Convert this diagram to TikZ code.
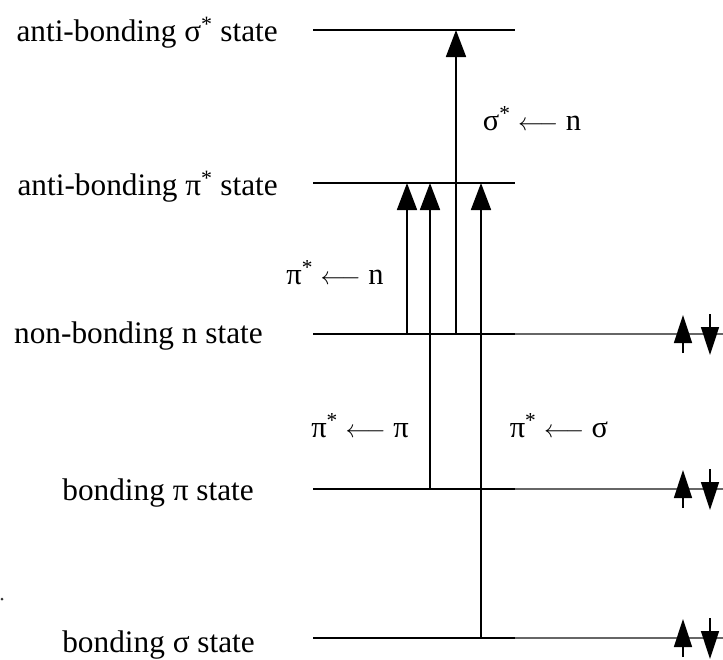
\documentclass[tikz,border=0pt]{standalone}
\usepackage{fontspec}
\setmainfont{Liberation Serif}
\usetikzlibrary{arrows.meta}
\begin{document}
\begin{tikzpicture}[x=1pt,y=-1pt,
  lvl/.style={line width=2.4pt},
  lvlthin/.style={line width=1.6pt},
  ext/.style={line width=1.3pt, black!60},
  trans/.style={line width=1.8pt, -{Triangle[length=27pt,width=20pt]}},
  spin/.style={line width=1.6pt, -{Triangle[length=28pt,width=18pt]}},
  lab/.style={anchor=base east, inner sep=0pt, font=\fontsize{31.3}{36}\selectfont},
  tlab/.style={anchor=base, inner sep=0pt, font=\fontsize{30.5}{36}\selectfont}
]
\useasboundingbox (0,0) rectangle (723,659);

% level end points
\coordinate (sa0) at (313,30);  \coordinate (sa1) at (515,30);
\coordinate (pa0) at (313,183); \coordinate (pa1) at (515,183);
\coordinate (n0)  at (313,334); \coordinate (n1)  at (515,334); \coordinate (n2) at (723,334);
\coordinate (pb0) at (313,489); \coordinate (pb1) at (515,489); \coordinate (pb2) at (723,489);
\coordinate (sb0) at (313,638); \coordinate (sb1) at (515,638); \coordinate (sb2) at (723,638);

% levels
\draw[lvl] (sa0) -- (sa1);
\draw[lvlthin] (pa0) -- (pa1);
\draw[lvl] (n0) -- (n1);
\draw[ext] (n1) -- (n2);
\draw[lvl] (pb0) -- (pb1);
\draw[ext] (pb1) -- (pb2);
\draw[lvl] (sb0) -- (sb1);
\draw[ext] (sb1) -- (sb2);

% level labels
\node[lab] (lsa) at (278,41)  {anti-bonding σ\textsuperscript{*} state};
\node[lab] (lpa) at (278,195) {anti-bonding π\textsuperscript{*} state};
\node[lab] (ln)  at (263,343) {non-bonding n state};
\node[lab] (lpb) at (254,500) {bonding π state};
\node[lab] (lsb) at (255,652) {bonding σ state};

% transition coordinates
\coordinate (t1b) at (407,334); \coordinate (t1t) at (407,183);
\coordinate (t2b) at (430,489); \coordinate (t2t) at (430,183);
\coordinate (t3b) at (456,334); \coordinate (t3t) at (456,30);
\coordinate (t4b) at (481,638); \coordinate (t4t) at (481,183);

\draw[trans] (t1b) -- (t1t);
\draw[trans] (t2b) -- (t2t);
\draw[trans] (t3b) -- (t3t);
\draw[trans] (t4b) -- (t4t);

% transition labels
\node[tlab] (la) at (532,130) {σ\textsuperscript{*} $\longleftarrow$ n};
\node[tlab] (lb) at (335,284) {π\textsuperscript{*} $\longleftarrow$ n};
\node[tlab] (lc) at (360,437) {π\textsuperscript{*} $\longleftarrow$ π};
\node[tlab] (ld) at (559,437) {π\textsuperscript{*} $\longleftarrow$ σ};

% electron spins
\foreach \yy/\nm in {334/n,489/pb,638/sb}{
  \coordinate (\nm ua) at (683,\yy+19); \coordinate (\nm ub) at (683,\yy-19);
  \coordinate (\nm da) at (710,\yy-20); \coordinate (\nm db) at (710,\yy+21);
  \draw[spin] (\nm ua) -- (\nm ub);
  \draw[spin] (\nm da) -- (\nm db);
}

% stray dot
\fill[black!80] (2,599) circle (1.5);
\end{tikzpicture}
\end{document}
